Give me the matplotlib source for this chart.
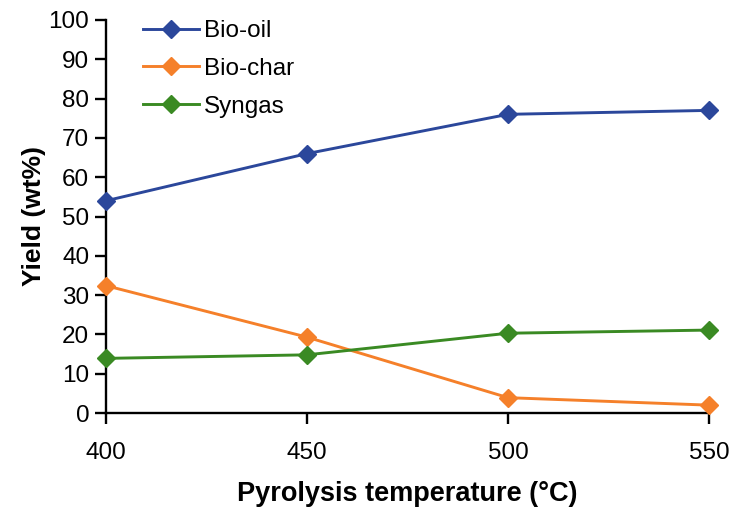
import matplotlib

matplotlib.use("Agg")
import matplotlib.pyplot as plt  # noqa: E402

temperature = [400, 450, 500, 550]
bio_oil = [54, 66, 76, 77]
bio_char = [32.4, 19.3, 3.9, 2.0]
syngas = [13.9, 14.8, 20.3, 21.1]

series = [
    ("Bio-oil", bio_oil, "#2B479B"),
    ("Bio-char", bio_char, "#F5802A"),
    ("Syngas", syngas, "#3A8A23"),
]

plt.rcParams["font.family"] = ["Liberation Sans", "DejaVu Sans"]

fig = plt.figure(figsize=(7.33, 5.07), dpi=100)
ax = fig.add_axes([106 / 733, 1 - 413 / 507, 603 / 733, 393 / 507])

for label, values, color in series:
    ax.plot(
        temperature,
        values,
        color=color,
        linewidth=2.1,
        marker="D",
        markersize=9.5,
        label=label,
        clip_on=False,
        zorder=3,
    )

ax.set_xlim(400, 550)
ax.set_ylim(0, 100)
ax.set_xticks(temperature)
ax.set_yticks(range(0, 101, 10))
ax.spines["top"].set_visible(False)
ax.spines["right"].set_visible(False)
for side in ("left", "bottom"):
    ax.spines[side].set_linewidth(1.7)
ax.tick_params(axis="both", labelsize=17.5, width=1.7, length=8)
ax.tick_params(axis="x", pad=13)
ax.tick_params(axis="y", pad=4)

ax.set_xlabel("Pyrolysis temperature (°C)", fontsize=19.5, fontweight="bold", labelpad=12)
ax.set_ylabel("Yield (wt%)", fontsize=19, fontweight="bold", labelpad=2)

ax.legend(
    loc="upper left",
    bbox_to_anchor=(143 / 733, 1 - 20 / 507),
    bbox_transform=fig.transFigure,
    frameon=False,
    fontsize=17.5,
    handlelength=2.3,
    handletextpad=0.2,
    labelspacing=0.65,
    borderpad=0,
    borderaxespad=0,
)

fig.savefig("out.png", dpi=100)
plt.close(fig)
